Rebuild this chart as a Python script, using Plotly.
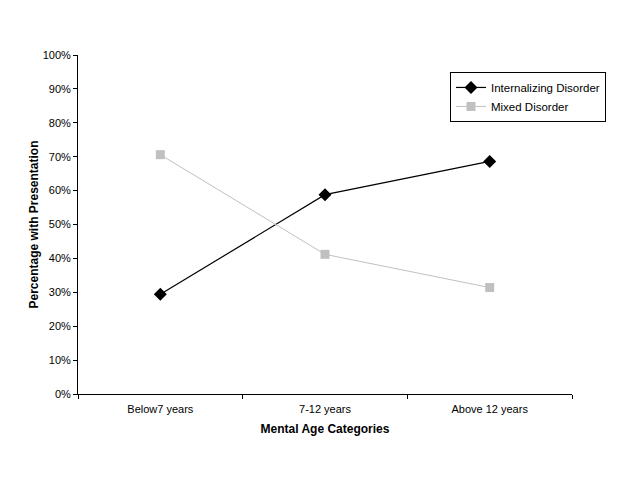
import plotly.graph_objects as go

categories = ["Below7 years", "7-12 years", "Above 12 years"]
internalizing = [0.294, 0.588, 0.686]
mixed = [0.706, 0.412, 0.314]
y_ticks = [0, 0.1, 0.2, 0.3, 0.4, 0.5, 0.6, 0.7, 0.8, 0.9, 1.0]

fig = go.Figure()
fig.add_trace(go.Scatter(
    x=categories, y=internalizing, name="Internalizing Disorder",
    mode="lines+markers",
    line=dict(color="black", width=1.2),
    marker=dict(symbol="diamond", size=10, color="black"),
))
fig.add_trace(go.Scatter(
    x=categories, y=mixed, name="Mixed Disorder",
    mode="lines+markers",
    line=dict(color="#c0c0c0", width=1),
    marker=dict(symbol="square", size=9, color="#c0c0c0"),
))

font = "Liberation Sans, Arial, sans-serif"
fig.update_layout(
    width=629, height=477,
    margin=dict(l=70, r=65, t=47, b=91),
    paper_bgcolor="white", plot_bgcolor="white",
    font=dict(family=font, size=11, color="black"),
    showlegend=True,
    legend=dict(
        x=0.753, y=0.95, xanchor="left", yanchor="top",
        bordercolor="black", borderwidth=1, bgcolor="white",
        font=dict(size=11.5, color="black"), itemwidth=30, tracegroupgap=0,
    ),
    xaxis=dict(
        type="category", range=[-0.5, 2.5], autorange=False,
        showline=True, linecolor="black", linewidth=1,
        ticks="outside", tickson="boundaries", ticklen=4, tickcolor="black",
        ticklabelstandoff=5,
        showgrid=False, zeroline=False,
        title=dict(text="<b>Mental Age Categories</b>", font=dict(size=12, color="black"), standoff=10),
        tickfont=dict(size=11, color="black"),
    ),
    yaxis=dict(
        range=[0, 1], autorange=False, tickvals=y_ticks, tickformat=".0%",
        showline=True, linecolor="black", linewidth=1,
        ticks="outside", ticklen=4, tickcolor="black",
        showgrid=False, zeroline=False,
        title=dict(text="<b>Percentage with Presentation</b>", font=dict(size=12, color="black"), standoff=1),
        tickfont=dict(size=11, color="black"),
    ),
)

fig.write_html("out.html")
